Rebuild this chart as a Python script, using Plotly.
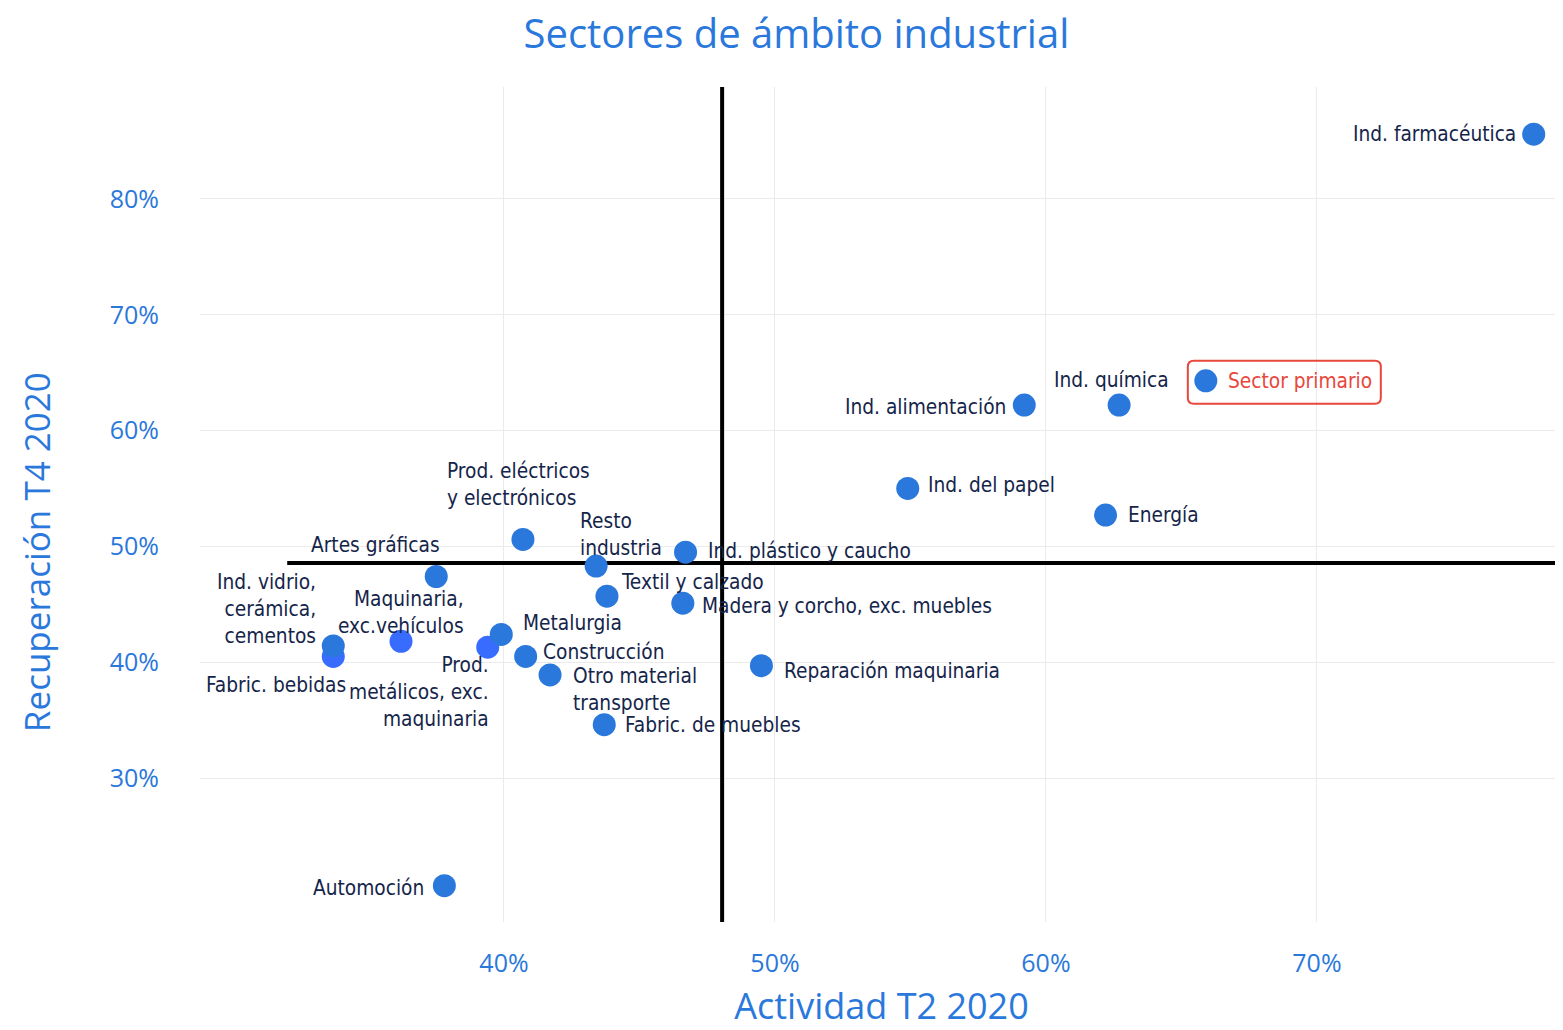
import plotly.graph_objects as go

# datos (fracciones)
sectores = [
    "Ind. farmacéutica", "Sector primario", "Ind. química", "Ind. alimentación",
    "Ind. del papel", "Energía", "Ind. plástico y caucho",
    "Prod. eléctricos<br>y electrónicos", "Resto<br>industria", "Artes gráficas",
    "Textil y calzado", "Madera y corcho, exc. muebles", "Metalurgia",
    "Maquinaria,<br>exc.vehículos", "Prod.<br>metálicos, exc.<br>maquinaria",
    "Ind. vidrio,<br>cerámica,<br>cementos", "Fabric. bebidas", "Construcción",
    "Otro material<br>transporte", "Reparación maquinaria", "Fabric. de muebles",
    "Automoción",
]
actividad = [0.780, 0.659, 0.627, 0.592, 0.549, 0.622, 0.467, 0.407, 0.434, 0.375,
             0.438, 0.466, 0.399, 0.362, 0.394, 0.337, 0.337, 0.408, 0.417, 0.495,
             0.437, 0.378]
recuperacion = [0.856, 0.643, 0.622, 0.622, 0.550, 0.527, 0.495, 0.506, 0.483, 0.474,
                0.457, 0.451, 0.424, 0.418, 0.413, 0.414, 0.405, 0.405, 0.389, 0.397,
                0.346, 0.207]
resaltados = ["Maquinaria,<br>exc.vehículos", "Prod.<br>metálicos, exc.<br>maquinaria",
              "Fabric. bebidas"]

media_actividad = 0.4805
media_recuperacion = 0.4857
inicio_linea_h = 0.32

x_ticks = [0.4, 0.5, 0.6, 0.7]
y_ticks = [0.3, 0.4, 0.5, 0.6, 0.7, 0.8]
x_range = [0.28782, 0.79081]
y_range = [0.17565, 0.8967]

# colocación de etiquetas: (xanchor, xshift, yshift)
pos_etiquetas = [
    ("right", -16, 0), ("left", 20, 0), ("center", -8, 25), ("right", -16, -2),
    ("left", 18, 3), ("left", 20, 0), ("left", 20, 1), ("left", -78, 55),
    ("left", -18, 32), ("right", 6, 32), ("left", 12, 14), ("left", 17, -3),
    ("left", 20, 11), ("right", 65, 29), ("right", 3, -45), ("right", -15, 37),
    ("right", 15, -29), ("left", 15, 4), ("left", 21, -15), ("left", 21, -5),
    ("left", 19, 0), ("right", -18, -2),
]

azul = "#2a78dc"
azul_vivo = "#386cff"
rojo = "#e8473c"
texto = "#15254a"
fuente_ejes = "Open Sans"
fuente_etiq = "DejaVu Sans Condensed, DejaVu Sans"

fig = go.Figure()

# lineas de referencia (debajo de los puntos)
fig.add_trace(go.Scatter(x=[media_actividad, media_actividad], y=y_range, mode="lines",
                         line=dict(color="black", width=4), hoverinfo="skip"))
fig.add_trace(go.Scatter(x=[inicio_linea_h, x_range[1]],
                         y=[media_recuperacion, media_recuperacion], mode="lines",
                         line=dict(color="black", width=4), hoverinfo="skip"))

for grupo, color in [(True, azul_vivo), (False, azul)]:
    xs = [x for x, s in zip(actividad, sectores) if (s in resaltados) == grupo]
    ys = [y for y, s in zip(recuperacion, sectores) if (s in resaltados) == grupo]
    fig.add_trace(go.Scatter(x=xs, y=ys, mode="markers",
                             marker=dict(color=color, size=23)))

for s, x, y, (xa, dx, dy) in zip(sectores, actividad, recuperacion, pos_etiquetas):
    al = "right" if xa == "right" else "left"
    col = rojo if s == "Sector primario" else texto
    fig.add_annotation(x=x, y=y, text=s, showarrow=False, xanchor=xa, yanchor="middle",
                       xshift=dx, yshift=dy, align=al,
                       font=dict(family=fuente_etiq, size=20.7, color=col))

# recuadro redondeado de Sector primario (en píxeles alrededor del punto)
i = sectores.index("Sector primario")
x0, x1, y0, y1, r = -18, 175, -23, 20, 6
caja = (f"M {x0+r},{y0} L {x1-r},{y0} Q {x1},{y0} {x1},{y0+r} L {x1},{y1-r} "
        f"Q {x1},{y1} {x1-r},{y1} L {x0+r},{y1} Q {x0},{y1} {x0},{y1-r} "
        f"L {x0},{y0+r} Q {x0},{y0} {x0+r},{y0} Z")
fig.add_shape(type="path", xref="x", yref="y", xsizemode="pixel", ysizemode="pixel",
              xanchor=actividad[i], yanchor=recuperacion[i], path=caja,
              line=dict(color=rojo, width=2))

# título del eje y algo desplazado hacia abajo, como en el original
fig.add_annotation(text="Recuperación T4 2020", xref="paper", yref="paper",
                   x=-0.1203, y=0.443, xanchor="center", yanchor="middle",
                   textangle=-90, showarrow=False,
                   font=dict(family=fuente_ejes, size=35, color=azul))

fig.update_layout(
    width=1555, height=1022,
    margin=dict(l=192, r=0, t=79, b=108),
    plot_bgcolor="white", paper_bgcolor="white",
    showlegend=False,
    title=dict(text="Sectores de ámbito industrial", x=0.507, xref="container",
               xanchor="center", y=0.975, yanchor="middle",
               font=dict(family=fuente_ejes, size=40, color=azul)),
)
fig.update_xaxes(range=x_range, tickvals=x_ticks, tickformat=".0%",
                 showgrid=True, gridcolor="#ebebeb", zeroline=False, showline=False,
                 ticklabelstandoff=24,
                 tickfont=dict(family=fuente_ejes, size=25, color=azul),
                 title=dict(text="Actividad T2 2020", standoff=18,
                            font=dict(family=fuente_ejes, size=36, color=azul)))
fig.update_yaxes(range=y_range, tickvals=y_ticks, tickformat=".0%",
                 showgrid=True, gridcolor="#ebebeb", zeroline=False, showline=False,
                 ticklabelstandoff=40,
                 tickfont=dict(family=fuente_ejes, size=25, color=azul))

fig.write_html("out.html")
